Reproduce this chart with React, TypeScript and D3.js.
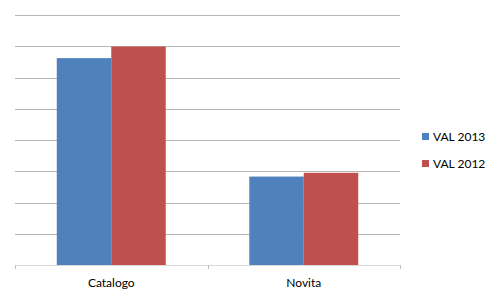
import React from "react";
import * as d3 from "d3";

const categories = ["Catalogo", "Novita"];
const seriesNames = ["VAL 2013", "VAL 2012"];
const val2013 = [6.62, 2.83];
const val2012 = [6.99, 2.95];
const yTicks = [0, 1, 2, 3, 4, 5, 6, 7, 8];
const colors = ["#4F81BD", "#C0504D"];

export default function App() {
  const W = 500, H = 300;
  const left = 15, right = 400, top = 15, bottom = 265;
  const x = d3.scaleBand<string>().domain(categories).range([left, right]).paddingInner(0.434).paddingOuter(0.217);
  const y = d3.scaleLinear().domain([0, 8]).range([bottom, top]);
  const inner = d3.scaleBand<string>().domain(seriesNames).range([0, x.bandwidth()]);
  const series = [val2013, val2012];
  const font = "Lato, 'Open Sans', sans-serif";
  const step = x.step();
  const tickXs = [left, ...categories.map((c) => (x(c) as number) + x.bandwidth() / 2 + step / 2)];
  return (
    <svg width={W} height={H} style={{ position: "absolute", left: 0, top: 0, background: "#fff" }}>
      {yTicks.slice(1).map((t) => (
        <line key={t} x1={left} x2={right} y1={Math.round(y(t)) + 0.5} y2={Math.round(y(t)) + 0.5} stroke="#a6a6a6" strokeWidth={1} opacity={0.8} />
      ))}
      {categories.map((c, i) =>
        seriesNames.map((s, j) => {
          const v = series[j][i];
          const bx = (x(c) as number) + (inner(s) as number);
          return <rect key={c + s} x={bx} y={y(v)} width={inner.bandwidth()} height={y(0) - y(v)} fill={colors[j]} />;
        })
      )}
      <line x1={left} x2={right} y1={bottom + 0.5} y2={bottom + 0.5} stroke="#d9d9d9" />
      {tickXs.map((tx, i) => (
        <line key={i} x1={Math.round(tx) + 0.5} x2={Math.round(tx) + 0.5} y1={bottom} y2={bottom + 4} stroke="#bfbfbf" />
      ))}
      {categories.map((c) => (
        <text key={c} x={(x(c) as number) + x.bandwidth() / 2} y={287} textAnchor="middle" fontFamily={font} fontSize={12} fill="#000">
          {c}
        </text>
      ))}
      {seriesNames.map((s, j) => (
        <g key={s} transform={`translate(422, ${133 + j * 27})`}>
          <rect x={0} y={0} width={7} height={7} fill={colors[j]} />
          <text x={11} y={7.5} fontFamily={font} fontSize={12} fill="#000">
            {s}
          </text>
        </g>
      ))}
    </svg>
  );
}
